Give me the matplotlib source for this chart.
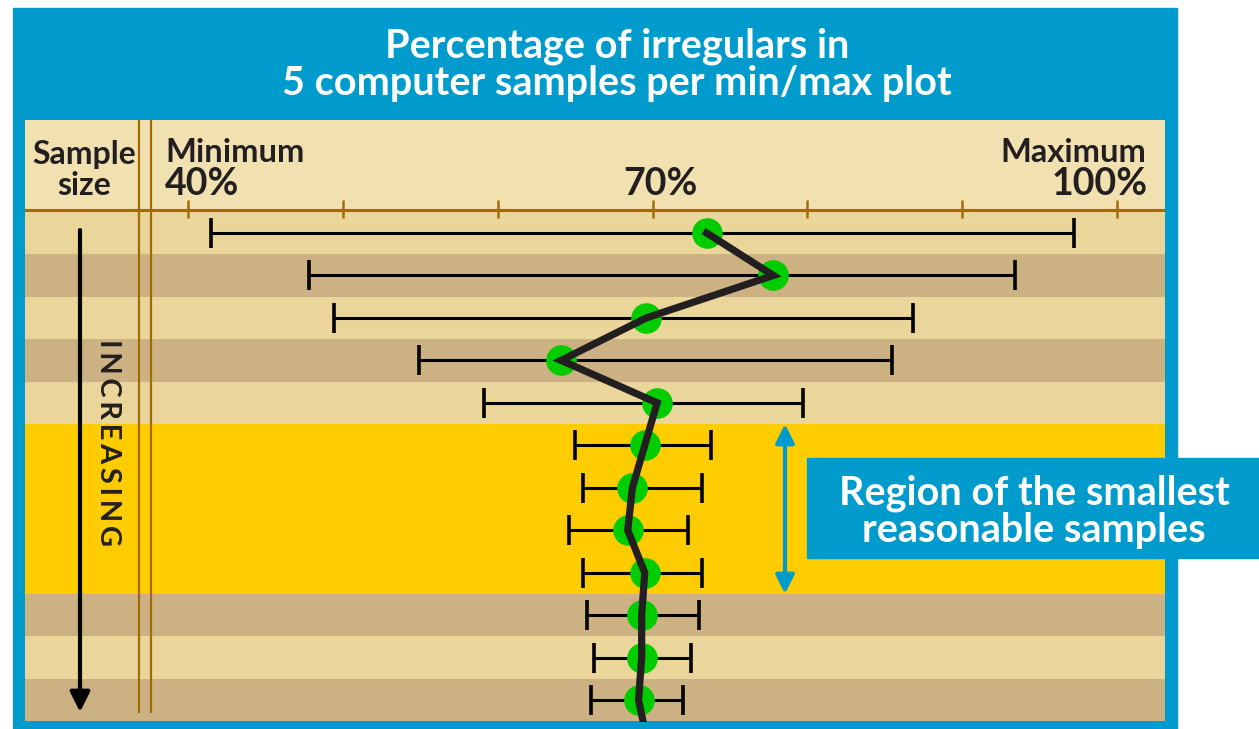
import matplotlib
matplotlib.use("Agg")
import matplotlib.pyplot as plt
from matplotlib.patches import Rectangle

plt.rcParams['font.family'] = ['Lato', 'DejaVu Sans']

# data (percent of irregulars), one row per sample size, smallest first
row_min = [41.5, 47.8, 49.4, 54.9, 59.1, 65.0, 65.5, 64.6, 65.5, 65.8, 66.2, 66.0]
row_max = [97.2, 93.4, 86.8, 85.5, 79.7, 73.8, 73.2, 72.3, 73.2, 73.0, 72.5, 72.0]
row_mid = [73.5, 77.8, 69.6, 64.1, 70.3, 69.5, 68.7, 68.4, 69.5, 69.3, 69.3, 69.1]
row_band = ['light', 'dark', 'light', 'dark', 'light',
            'yellow', 'yellow', 'yellow', 'yellow',
            'dark', 'light', 'dark']
tick_vals = [40, 50, 60, 70, 80, 90, 100]
line_tail = 69.4  # where the trend line leaves the bottom edge

BLUE = '#009BCD'
BROWN = '#A36B05'
band_col = {'light': '#EAD69B', 'dark': '#CCB182', 'yellow': '#FFCC00'}

W, H = 1259, 729
fig = plt.figure(figsize=(W / 100, H / 100), dpi=100)
fig.patch.set_facecolor('white')


def fx(x):
    return x / W


def fy(y):
    return 1 - y / H


# blue frame
fig.add_artist(Rectangle((fx(13), fy(729)), fx(1177) - fx(13), fy(8) - fy(729),
                         transform=fig.transFigure, color=BLUE, zorder=0))

# main panel, x in percent, y in rows
ax = fig.add_axes([fx(25), fy(722), fx(1165) - fx(25), fy(120) - fy(722)])
s = (1117 - 188) / 60.0          # px per percent
pitch = (700 - 233) / 11.0       # px per row
ax.set_xlim(40 - (188 - 25) / s, 40 + (1165 - 188) / s)
ax.set_ylim(11 + (722 - 700) / pitch, -(233 - 120) / pitch)
ax.axis('off')
ylim = ax.get_ylim()

n = len(row_mid)
rows = list(range(n))
axis_y = -0.5 - 1.5 / pitch
ax.axhspan(ylim[1], axis_y, color='#F1E1B1', zorder=0, lw=0)
for i in rows:
    ax.axhspan(i - 0.5, i + 0.5, color=band_col[row_band[i]], zorder=0, lw=0)
ax.axhspan(axis_y, -0.5, color=band_col[row_band[0]], zorder=0, lw=0)

# axis line + ticks
ax.axhline(axis_y, color=BROWN, lw=2.2, zorder=1)
ax.vlines(tick_vals, axis_y - 10 / pitch, axis_y + 8 / pitch, color=BROWN, lw=1.8, zorder=1)

# double vertical rule
ax.vlines([40 - (188 - 139) / s, 40 - (188 - 151) / s], (713 - 233) / pitch, ylim[1],
          color=BROWN, lw=1.6, zorder=1)

# min/max bars
err_lo = [m - a for m, a in zip(row_mid, row_min)]
err_hi = [b - m for m, b in zip(row_mid, row_max)]
ax.errorbar(row_mid, rows, xerr=[err_lo, err_hi], fmt='none', ecolor='black',
            elinewidth=2.2, capsize=11, capthick=2.6, zorder=2)
ax.plot(row_mid, rows, 'o', color='#00CC00', ms=21, zorder=3)
ax.plot(row_mid + [line_tail], rows + [ylim[0]], color='#231F20', lw=5.2,
        solid_joinstyle='miter', zorder=4)

# increasing arrow
ax_x = 40 - (188 - 80) / s
ax.annotate('', xy=(ax_x, (712 - 233) / pitch), xytext=(ax_x, (230 - 233) / pitch),
            arrowprops=dict(arrowstyle='-|>', color='black', lw=3, mutation_scale=30,
                            shrinkA=0, shrinkB=0), zorder=5)
ax.text(40 - (188 - 108) / s, (443 - 233) / pitch, '\u2009'.join('INCREASING'), rotation=-90,
        ha='center', va='center', fontsize=21, fontweight='bold', color='#231F20')

# blue double arrow for the region
bx = 40 + (785 - 188) / s
ax.annotate('', xy=(bx, 4.5), xytext=(bx, 8.5),
            arrowprops=dict(arrowstyle='<|-|>', color=BLUE, lw=3, mutation_scale=28,
                            shrinkA=0, shrinkB=0), zorder=5)

# region box
fig.add_artist(Rectangle((fx(807), fy(558)), fx(1259) - fx(807), fy(458) - fy(558),
                         transform=fig.transFigure, color=BLUE, zorder=6))
fig.text(fx(1034), fy(512), 'Region of the smallest\nreasonable samples', ha='center',
         va='center', fontsize=28.5, fontweight='bold', color='white', linespacing=1.0,
         zorder=7)

# title
fig.text(fx(617), fy(65), 'Percentage of irregulars in\n5 computer samples per min/max plot',
         ha='center', va='center', fontsize=28.5, fontweight='bold', color='white',
         linespacing=1.0)

# header labels
dark = '#231F20'
fig.text(fx(84), fy(170), 'Sample\nsize', ha='center', va='center', fontsize=23,
         fontweight='bold', color=dark, linespacing=1.1)
fig.text(fx(165), fy(162), 'Minimum', ha='left', va='baseline', fontsize=23.5,
         fontweight='bold', color=dark)
fig.text(fx(165), fy(195), '40%', ha='left', va='baseline', fontsize=27,
         fontweight='bold', color=dark)
fig.text(fx(660), fy(195), '70%', ha='center', va='baseline', fontsize=27,
         fontweight='bold', color=dark)
fig.text(fx(1146), fy(162), 'Maximum', ha='right', va='baseline', fontsize=23.5,
         fontweight='bold', color=dark)
fig.text(fx(1148), fy(195), '100%', ha='right', va='baseline', fontsize=27,
         fontweight='bold', color=dark)

fig.savefig('out.png', dpi=100)
